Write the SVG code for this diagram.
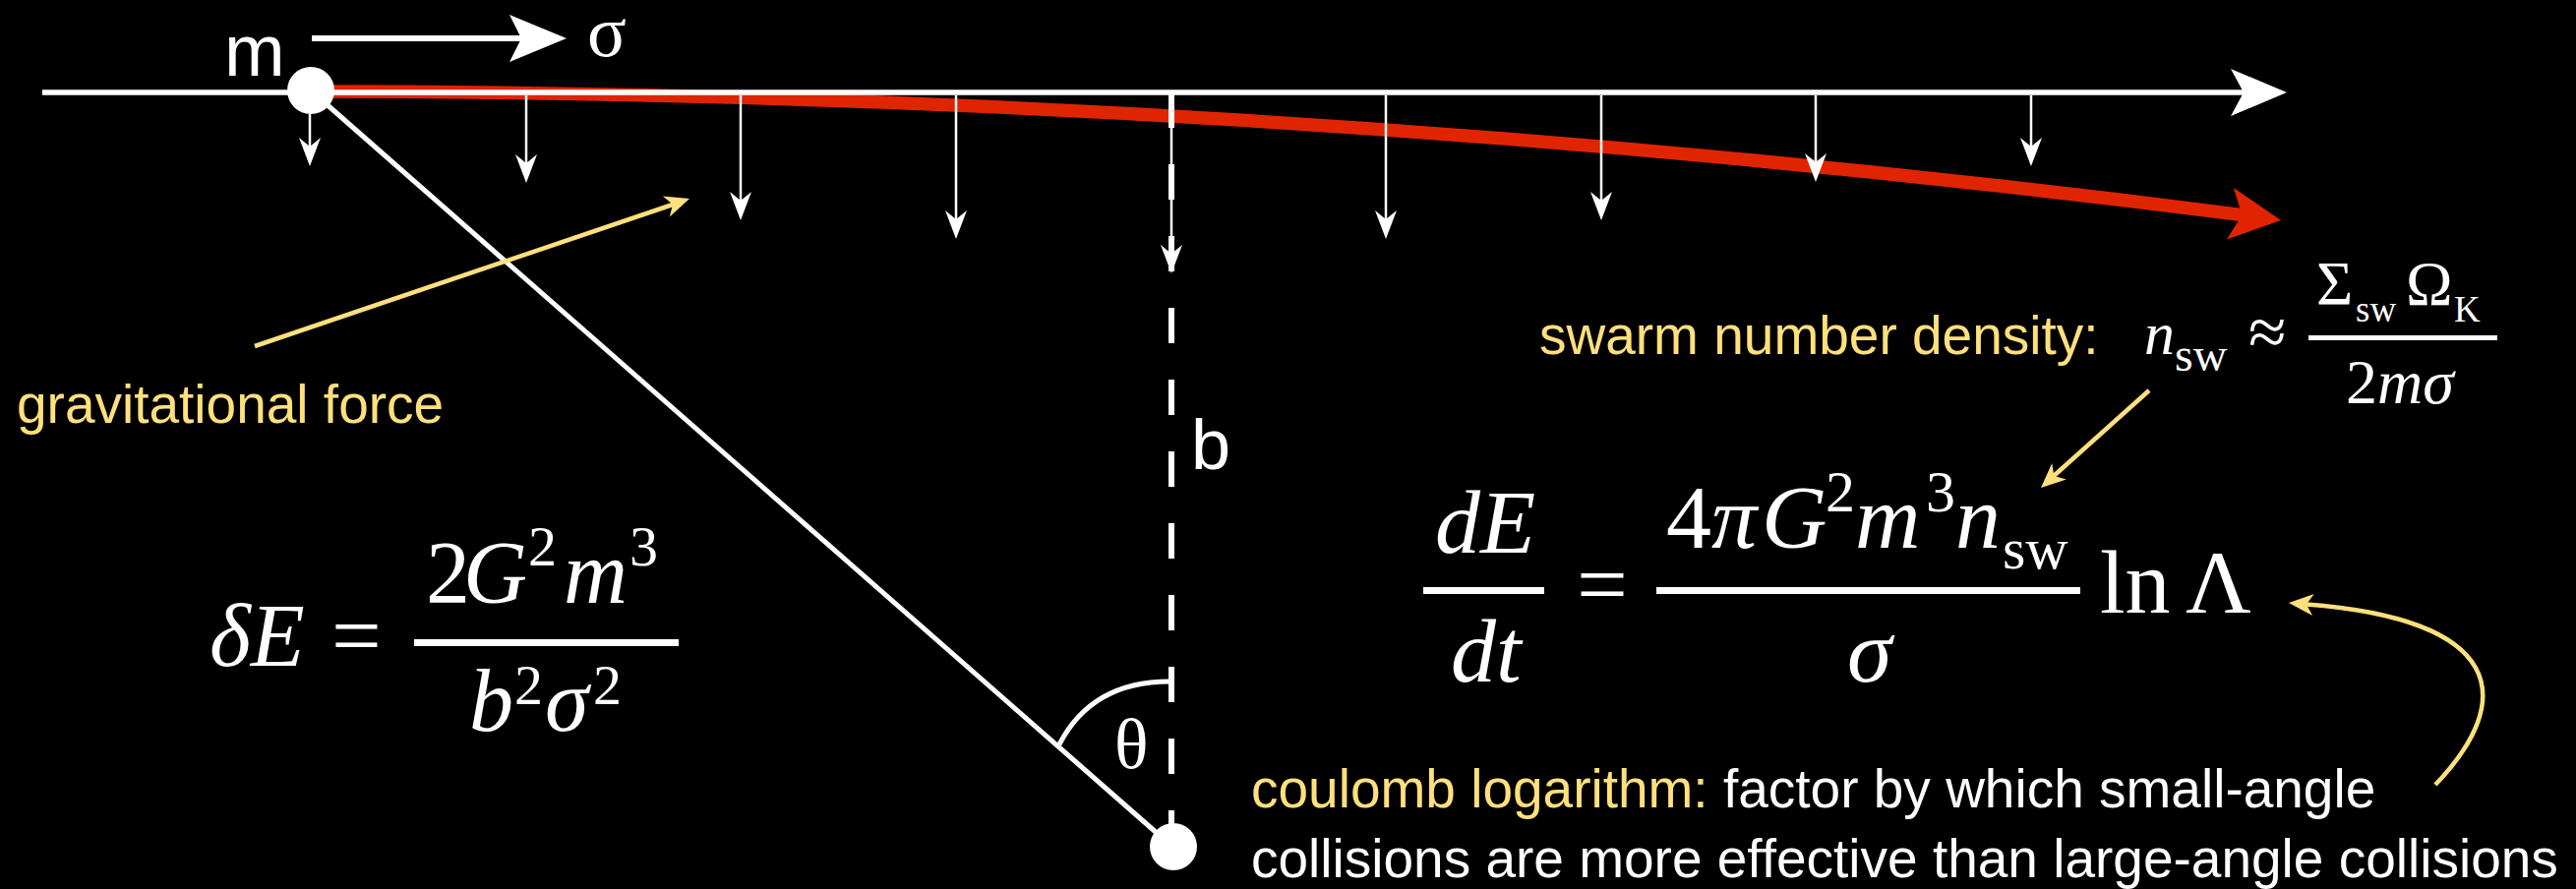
<svg xmlns="http://www.w3.org/2000/svg" width="2619" height="904" viewBox="0 0 2619 904">
<defs>
<style>
.lbl{font-family:"Liberation Sans",Arial,sans-serif;font-size:55px}
.yl{fill:#FFE07C}
.wt{fill:#fff}
.m{font-family:"Liberation Serif","Times New Roman",serif;fill:#fff}
.i{font-style:italic}
.thin{stroke:#fff;stroke-width:2.5;fill:none}
.ya{stroke:#FFE07C;stroke-width:4.5;fill:none}
</style>
<path id="ahThin" d="M0,0 L-11,-29 L0,-20 L11,-29 Z" fill="#fff"/>
<path id="ahY" d="M0,0 L-25,-11 L-18,0 L-25,11 Z" fill="#FFE07C"/>
</defs>
<rect x="0" y="0" width="2619" height="904" fill="#000"/>

<g id="trajectory">
<path d="M316,93 Q1297,93 2280,218.6" stroke="#E02400" stroke-width="13.5" fill="none"/>
<path d="M0,0 L-52,-26.5 L-40,0 L-52,26.5 Z" fill="#E02400" transform="translate(2319,224) rotate(7.5)"/>
</g>

<g id="axis">
<line x1="43" y1="94" x2="2282" y2="94" stroke="#fff" stroke-width="5.5"/>
<path d="M2325,94 L2268,70 L2281,94 L2268,118 Z" fill="#fff"/>
</g>

<g id="impact-geometry">
<line x1="316" y1="92" x2="1192" y2="861" stroke="#fff" stroke-width="5"/>
<line x1="1191" y1="94" x2="1191" y2="861" stroke="#fff" stroke-width="6" stroke-dasharray="36 37"/>
<path d="M1077,757 Q1110,693 1189,693" stroke="#fff" stroke-width="5" fill="none"/>
</g>

<g id="connectors">
<line class="thin" x1="315" y1="116" x2="315" y2="150"/><use href="#ahThin" x="315" y="169"/>
<line class="thin" x1="535" y1="97" x2="535" y2="166"/><use href="#ahThin" x="535" y="186"/>
<line class="thin" x1="753" y1="97" x2="753" y2="204"/><use href="#ahThin" x="753" y="224"/>
<line class="thin" x1="972" y1="97" x2="972" y2="223"/><use href="#ahThin" x="972" y="243"/>
<line class="thin" x1="1191" y1="97" x2="1191" y2="258"/><use href="#ahThin" x="1191" y="278"/>
<line class="thin" x1="1409" y1="97" x2="1409" y2="223"/><use href="#ahThin" x="1409" y="243"/>
<line class="thin" x1="1628" y1="97" x2="1628" y2="204"/><use href="#ahThin" x="1628" y="224"/>
<line class="thin" x1="1846" y1="97" x2="1846" y2="165"/><use href="#ahThin" x="1846" y="185"/>
<line class="thin" x1="2065" y1="97" x2="2065" y2="150"/><use href="#ahThin" x="2065" y="169"/>
<line class="ya" x1="259" y1="352" x2="684" y2="208"/>
<use href="#ahY" transform="translate(701,202) rotate(-18.7)"/>
<line class="ya" x1="2185" y1="397" x2="2088" y2="484"/>
<use href="#ahY" transform="translate(2075,496) rotate(138)"/>
<path class="ya" d="M2476,798 C2560,710 2545,630 2345,614.5"/>
<use href="#ahY" transform="translate(2327,613) rotate(184.4)"/>
</g>

<g id="velocity">
<line x1="317" y1="39" x2="532" y2="39" stroke="#fff" stroke-width="6"/>
<path d="M576,39 L518,15 L530,39 L518,63 Z" fill="#fff"/>
<text class="m" x="597" y="57" font-size="74">σ</text>
</g>

<g id="particle-m">
<circle cx="316" cy="92" r="24" fill="#fff"/>
<text class="lbl wt" x="228" y="77" style="font-size:74px">m</text>
</g>

<g id="particle-2">
<circle cx="1193" cy="861" r="24" fill="#fff"/>
</g>

<g id="label-b">
<text class="lbl wt" x="1211" y="477" style="font-size:72px">b</text>
</g>
<g id="label-theta">
<text class="m" x="1133" y="781" font-size="72">θ</text>
</g>

<g id="label-gravity">
<text class="lbl yl" x="17" y="430">gravitational force</text>
</g>

<g id="eq-deltaE">
<text class="m i" x="213" y="677" font-size="90">δE</text>
<text class="m" x="337" y="677" font-size="90">=</text>
<rect x="421" y="650" width="269" height="7" fill="#fff"/>
<text class="m" x="433" y="613" font-size="90">2</text>
<text class="m i" x="471" y="613" font-size="90">G</text>
<text class="m" x="537" y="575" font-size="58">2</text>
<text class="m i" x="573" y="613" font-size="90">m</text>
<text class="m" x="640" y="575" font-size="58">3</text>
<text class="m i" x="477" y="743" font-size="90">b</text>
<text class="m" x="523" y="716" font-size="58">2</text>
<text class="m i" x="554" y="743" font-size="90">σ</text>
<text class="m" x="603" y="716" font-size="58">2</text>
</g>

<g id="eq-density">
<text class="lbl yl" x="1565" y="360">swarm number density:</text>
<text class="m i" x="2180" y="360" font-size="62">n</text>
<text class="m" x="2211" y="377" font-size="48">sw</text>
<text class="m" x="2286" y="361" font-size="70">≈</text>
<rect x="2347" y="341" width="192" height="5" fill="#fff"/>
<text class="m" x="2355" y="310" font-size="64">Σ</text>
<text class="m" x="2395" y="327" font-size="37">sw</text>
<text class="m" x="2446" y="310" font-size="64">Ω</text>
<text class="m" x="2495" y="327" font-size="37">K</text>
<text class="m" x="2385" y="410" font-size="64">2</text>
<text class="m i" x="2417" y="410" font-size="64">mσ</text>
</g>

<g id="eq-dEdt">
<text class="m i" x="1459" y="562" font-size="92">dE</text>
<rect x="1447" y="597" width="123" height="7" fill="#fff"/>
<text class="m i" x="1475" y="693" font-size="92">dt</text>
<text class="m" x="1603" y="625" font-size="92">=</text>
<rect x="1684" y="597" width="431" height="7" fill="#fff"/>
<text class="m" x="1694" y="557" font-size="92">4</text>
<text class="m i" x="1740" y="557" font-size="92">π</text>
<text class="m i" x="1791" y="557" font-size="92">G</text>
<text class="m" x="1856" y="520" font-size="60">2</text>
<text class="m i" x="1886" y="557" font-size="92">m</text>
<text class="m" x="1958" y="520" font-size="60">3</text>
<text class="m i" x="1988" y="557" font-size="92">n</text>
<text class="m" x="2036" y="578" font-size="60">sw</text>
<text class="m i" x="1878" y="693" font-size="92">σ</text>
<text class="m" x="2135" y="623" font-size="92">ln</text>
<text class="m" x="2222" y="623" font-size="92">Λ</text>
</g>

<g id="label-coulomb">
<text class="lbl" x="1272" y="821"><tspan class="yl">coulomb logarithm:</tspan><tspan class="wt"> factor by which small-angle</tspan></text>
<text class="lbl wt" x="1272" y="892">collisions are more effective than large-angle collisions</text>
</g>
</svg>
